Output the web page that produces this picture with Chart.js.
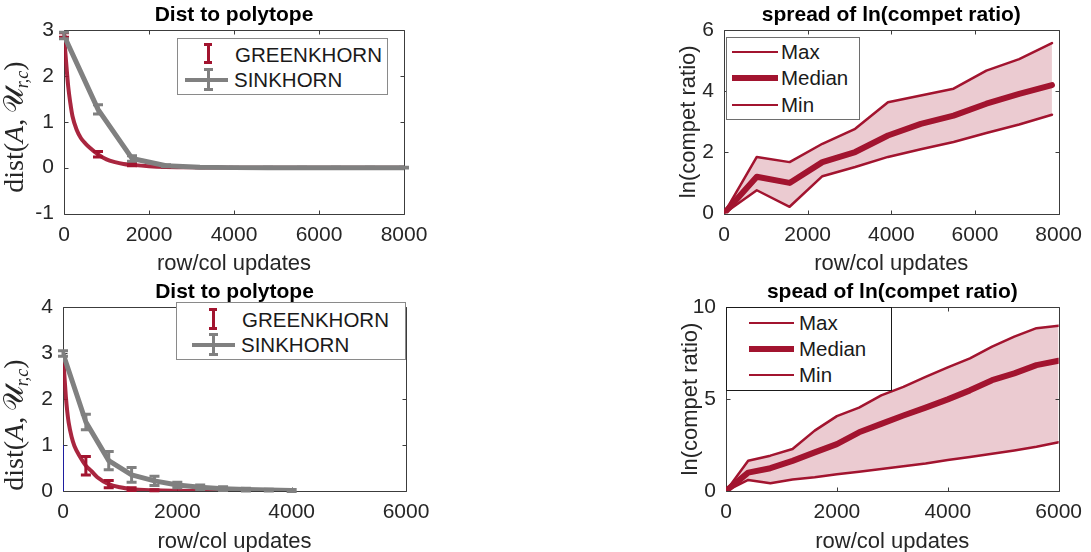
<!DOCTYPE html>
<html>
<head>
<meta charset="utf-8">
<script src="https://cdn.jsdelivr.net/npm/chart.js@4.4.0/dist/chart.umd.min.js"></script>
<style>
html,body{margin:0;padding:0;background:#fff;width:1091px;height:552px;overflow:hidden;font-family:"Liberation Sans",Arial,sans-serif;}
canvas{position:absolute;}
.leg{position:absolute;background:#fff;box-sizing:border-box;}
.el{position:absolute;}
.lt{position:absolute;font-size:20.5px;line-height:24px;color:#1a1a1a;white-space:nowrap;font-family:"Liberation Sans",Arial,sans-serif;}
.ylab{position:absolute;transform:translate(-50%,-50%) rotate(-90deg);white-space:nowrap;font-family:"Liberation Serif","DejaVu Serif",serif;font-size:28px;color:#262626;}
.ylab sub{font-size:18px;vertical-align:-5px;}
</style>
</head>
<body>
<canvas id="c1" width="545" height="277" style="left:0;top:0"></canvas>
<canvas id="c2" width="545" height="275" style="left:0;top:277px"></canvas>
<canvas id="c3" width="546" height="277" style="left:545px;top:0"></canvas>
<canvas id="c4" width="546" height="275" style="left:545px;top:277px"></canvas>
<div class="ylab" style="left:15px;top:127px">dist(<i>A</i>,&#8201;<span>&#x1D4B0;</span><sub><i>r,c</i></sub>)</div>
<div class="ylab" style="left:15px;top:425px">dist(<i>A</i>,&#8201;<span>&#x1D4B0;</span><sub><i>r,c</i></sub>)</div>
<div id="legends"></div>
<script>
// ---------- DATA ----------
// Top-left: Dist to polytope
const tlGreenX = [0, 50, 100, 150, 200, 300, 400, 500, 600, 800, 1000, 1200, 1400, 1600, 2000, 2400, 3200, 4000, 5000, 6000, 7000, 8000];
const tlGreenY = [2.89, 2.3, 1.76, 1.4, 1.12, 0.82, 0.64, 0.53, 0.44, 0.29, 0.18, 0.12, 0.08, 0.06, 0.03, 0.015, 0.005, 0, 0, 0, 0, 0];
const tlGreenErrX = [0, 800, 1600, 2400];
const tlGreenErrY = [2.89, 0.29, 0.07, 0.02];
const tlGreenErrE = [0.05, 0.06, 0.03, 0.01];
const tlSinkX = [0, 800, 1600, 2400, 3200, 4000, 4800, 5600, 6400, 7200, 8000];
const tlSinkY = [2.88, 1.27, 0.2, 0.04, 0.01, 0, 0, 0, 0, 0, 0];
const tlSinkE = [0.07, 0.1, 0.06, 0.02, 0.01, 0.01, 0.01, 0.01, 0.01, 0.01, 0.01];

// Bottom-left: Dist to polytope
const blGreenX = [0, 25, 50, 75, 100, 150, 200, 300, 400, 500, 600, 800, 1000, 1200, 1600, 2000, 2400, 2800, 3200, 3600, 4000];
const blGreenY = [3.0, 2.5, 2.05, 1.72, 1.48, 1.18, 0.98, 0.74, 0.55, 0.43, 0.3, 0.15, 0.08, 0.04, 0.015, 0.005, 0, 0, 0, 0, 0];
const blGreenErrX = [400, 800, 1200, 1600];
const blGreenErrY = [0.55, 0.15, 0.04, 0.015];
const blGreenErrE = [0.2, 0.08, 0.03, 0.01];
const blSinkX = [0, 400, 800, 1200, 1600, 2000, 2400, 2800, 3200, 3600, 4000];
const blSinkY = [2.99, 1.5, 0.66, 0.35, 0.22, 0.13, 0.08, 0.05, 0.03, 0.02, 0.01];
const blSinkE = [0.06, 0.17, 0.2, 0.16, 0.1, 0.06, 0.05, 0.04, 0.03, 0.02, 0.02];
const blBlueX = [0, 0];
const blBlueY = [0, 1];

// Top-right: spread of ln(compet ratio)
const trX = [0, 784, 1568, 2352, 3136, 3920, 4704, 5488, 6272, 7056, 7840];
const trMax = [0, 1.85, 1.68, 2.28, 2.77, 3.64, 3.86, 4.08, 4.67, 5.05, 5.57];
const trMed = [0, 1.2, 1.0, 1.68, 2.01, 2.55, 2.93, 3.2, 3.59, 3.91, 4.2];
const trMin = [0, 0.76, 0.22, 1.22, 1.52, 1.85, 2.1, 2.34, 2.63, 2.91, 3.23];

// Bottom-right: spead of ln(compet ratio)
const brX = [0, 400, 800, 1200, 1600, 2000, 2400, 2800, 3200, 3600, 4000, 4400, 4800, 5200, 5600, 6000];
const brMax = [0, 1.64, 1.92, 2.28, 3.28, 4.07, 4.53, 5.2, 5.66, 6.2, 6.72, 7.21, 7.85, 8.39, 8.85, 8.98];
const brMed = [0, 1.0, 1.24, 1.64, 2.1, 2.55, 3.19, 3.65, 4.1, 4.53, 4.98, 5.47, 6.02, 6.39, 6.84, 7.08];
const brMin = [0, 0.6, 0.42, 0.62, 0.75, 0.91, 1.05, 1.2, 1.35, 1.5, 1.68, 1.85, 2.02, 2.2, 2.4, 2.65];

const xTicksTop = [0, 2000, 4000, 6000, 8000];
const xTicksBottom = [0, 2000, 4000, 6000];

// ---------- STYLE ----------
const RED = '#A2142F';
const GRAY = '#808080';
const AX = '#262626';
const pts = (xs, ys) => xs.map((x, i) => ({x, y: ys[i]}));

const framePlugin = {
  id: 'frame',
  beforeDatasetsDraw(chart) {
    const {ctx, chartArea: a, scales: {x, y}} = chart;
    ctx.save();
    ctx.strokeStyle = '#3c3c3c';
    ctx.lineWidth = 1;
    const L = Math.round(a.left) + 0.5, R = Math.round(a.right) + 0.5, T = Math.round(a.top) + 0.5, B = Math.round(a.bottom) + 0.5;
    ctx.beginPath();
    ctx.rect(L, T, R - L, B - T);
    const tl = 4;
    x.ticks.forEach(t => {
      const px = Math.round(x.getPixelForValue(t.value)) + 0.5;
      ctx.moveTo(px, B); ctx.lineTo(px, B - tl);
      ctx.moveTo(px, T); ctx.lineTo(px, T + tl);
    });
    y.ticks.forEach(t => {
      const py = Math.round(y.getPixelForValue(t.value)) + 0.5;
      ctx.moveTo(L, py); ctx.lineTo(L + tl, py);
      ctx.moveTo(R, py); ctx.lineTo(R - tl, py);
    });
    ctx.stroke();
    ctx.restore();
  }
};

const errorBarPlugin = {
  id: 'errorBars',
  afterDatasetsDraw(chart) {
    const {ctx, scales: {x, y}} = chart;
    const dss = chart.data.datasets;
    for (let di = dss.length - 1; di >= 0; di--) {
      const ds = dss[di];
      if (!ds.errorBars) continue;
      ctx.save();
      ctx.strokeStyle = ds.errColor;
      ctx.lineWidth = 3;
      ctx.lineCap = 'butt';
      const cap = 5;
      ds.data.forEach((p, i) => {
        const e = ds.errorBars[i];
        const px = x.getPixelForValue(p.x);
        const yt = y.getPixelForValue(p.y + e), yb = y.getPixelForValue(p.y - e);
        ctx.beginPath();
        ctx.moveTo(px, yt - 1.5); ctx.lineTo(px, yb + 1.5);
        ctx.moveTo(px - cap, yt); ctx.lineTo(px + cap, yt);
        ctx.moveTo(px - cap, yb); ctx.lineTo(px + cap, yb);
        ctx.stroke();
      });
      ctx.restore();
    }
  }
};

function makeChart(id, cfg) {
  return new Chart(document.getElementById(id), {
    type: 'line',
    data: {datasets: cfg.datasets},
    plugins: [framePlugin, errorBarPlugin],
    options: {
      responsive: false,
      animation: false,
      devicePixelRatio: 1,
      events: [],
      layout: {padding: {left: cfg.padLeft, right: cfg.padRight, top: 0, bottom: 0}},
      elements: {point: {radius: 0, hoverRadius: 0}, line: {borderCapStyle: 'round', borderJoinStyle: 'round'}},
      plugins: {
        legend: {display: false},
        tooltip: {enabled: false},
        filler: {drawTime: 'beforeDatasetsDraw'},
        title: {
          display: true, text: cfg.title, fullSize: false, color: '#000',
          font: {family: '"Liberation Sans", Arial, sans-serif', size: 21, weight: 'bold', lineHeight: 1.2},
          padding: {top: 2.4, bottom: 2.4}
        }
      },
      scales: {
        x: {
          type: 'linear', min: 0, max: cfg.xMax,
          afterBuildTicks: s => { s.ticks = cfg.xTicks.map(v => ({value: v})); },
          afterFit: s => { s.height = cfg.xAxisH; },
          grid: {display: false, drawTicks: false},
          border: {display: false},
          ticks: {padding: 9, color: AX, font: {family: '"Liberation Sans", Arial, sans-serif', size: 21},
                  callback: v => String(v)},
          title: {display: true, text: 'row/col updates', color: AX, padding: {top: 0, bottom: cfg.xTitlePad},
                  font: {family: '"Liberation Sans", Arial, sans-serif', size: 22, lineHeight: 1.2}}
        },
        y: {
          type: 'linear', min: cfg.yMin, max: cfg.yMax,
          ticks: {stepSize: cfg.yStep, padding: 10, color: AX, font: {family: '"Liberation Sans", Arial, sans-serif', size: 21},
                  callback: v => String(v)},
          afterFit: s => { s.width = cfg.yAxisW; },
          grid: {display: false, drawTicks: false},
          border: {display: false},
          title: {display: !!cfg.yTitle, text: cfg.yTitle || '', color: AX, padding: {top: 0, bottom: 0},
                  font: {family: '"Liberation Sans", Arial, sans-serif', size: 22, lineHeight: 1.2}}
        }
      }
    }
  });
}

// Top-left
makeChart('c1', {
  title: 'Dist to polytope', xMax: 8000, xTicks: xTicksTop, yMin: -1, yMax: 3, yStep: 1,
  padLeft: 0, yAxisW: 64, padRight: 141, xAxisH: 63.5, xTitlePad: 0,
  datasets: [
    {data: pts(tlSinkX, tlSinkY), borderColor: GRAY, borderWidth: 5, tension: 0, errorBars: tlSinkE, errColor: GRAY},
    {data: pts(tlGreenErrX, tlGreenErrY), showLine: false, borderColor: RED, errorBars: tlGreenErrE, errColor: RED},
    {data: pts(tlGreenX, tlGreenY), borderColor: 'rgba(162,20,47,0.92)', borderWidth: 4, cubicInterpolationMode: 'monotone'}
  ]
});

// Bottom-left
makeChart('c2', {
  title: 'Dist to polytope', xMax: 6000, xTicks: xTicksBottom, yMin: 0, yMax: 4, yStep: 1,
  padLeft: 0, yAxisW: 63, padRight: 139, xAxisH: 61, xTitlePad: -3,
  datasets: [
    {data: pts(blBlueX, blBlueY), borderColor: '#0000ff', borderWidth: 1, tension: 0},
    {data: pts(blSinkX, blSinkY), borderColor: GRAY, borderWidth: 5, tension: 0, errorBars: blSinkE, errColor: GRAY},
    {data: pts(blGreenErrX, blGreenErrY), showLine: false, borderColor: RED, errorBars: blGreenErrE, errColor: RED},
    {data: pts(blGreenX, blGreenY), borderColor: 'rgba(162,20,47,0.92)', borderWidth: 4, cubicInterpolationMode: 'monotone'}
  ]
});

// Top-right
makeChart('c3', {
  title: 'spread of ln(compet ratio)', xMax: 8000, xTicks: xTicksTop, yMin: 0, yMax: 6, yStep: 2,
  yTitle: 'ln(compet ratio)', padLeft: 130.8, yAxisW: 48.2, padRight: 27, xAxisH: 63.5, xTitlePad: 0,
  datasets: [
    {data: pts(trX, trMax), borderColor: RED, borderWidth: 2.5, tension: 0, fill: '+2', backgroundColor: 'rgba(162,20,47,0.22)'},
    {data: pts(trX, trMed), borderColor: RED, borderWidth: 6, tension: 0},
    {data: pts(trX, trMin), borderColor: RED, borderWidth: 2.5, tension: 0}
  ]
});

// Bottom-right
makeChart('c4', {
  title: 'spead of ln(compet ratio)', xMax: 6000, xTicks: xTicksBottom, yMin: 0, yMax: 10, yStep: 5,
  yTitle: 'ln(compet ratio)', padLeft: 132.8, yAxisW: 48.2, padRight: 26, xAxisH: 61, xTitlePad: -3,
  datasets: [
    {data: pts(brX, brMax), borderColor: RED, borderWidth: 2.5, tension: 0, fill: '+2', backgroundColor: 'rgba(162,20,47,0.22)'},
    {data: pts(brX, brMed), borderColor: RED, borderWidth: 6, tension: 0},
    {data: pts(brX, brMin), borderColor: RED, borderWidth: 2.5, tension: 0}
  ]
});

// ---------- LEGENDS (HTML) ----------
const legRoot = document.getElementById('legends');
function box(l, t, w, h, border) {
  const d = document.createElement('div');
  d.className = 'leg';
  d.style.cssText = `left:${l}px;top:${t}px;width:${w}px;height:${h}px;border:1px solid ${border};`;
  legRoot.appendChild(d);
}
function rect(l, t, w, h, c) {
  const d = document.createElement('div');
  d.className = 'el';
  d.style.cssText = `left:${l}px;top:${t}px;width:${w}px;height:${h}px;background:${c};`;
  legRoot.appendChild(d);
}
function hline(x1, x2, y, w, c) { rect(x1, y - w / 2, x2 - x1, w, c); }
function ebar(x, y1, y2, cap, c) {
  rect(x - 1.5, y1, 3, y2 - y1, c);
  rect(x - cap / 2, y1, cap, 3, c);
  rect(x - cap / 2, y2 - 3, cap, 3, c);
}
function text(s, l, cy) {
  const d = document.createElement('div');
  d.className = 'lt';
  d.style.left = l + 'px';
  d.style.top = (cy - 12) + 'px';
  d.textContent = s;
  legRoot.appendChild(d);
}
// top-left
box(177, 38, 211, 57, '#8a8a8a');
ebar(208, 43, 64, 8, RED);
text('GREENKHORN', 235, 55);
hline(185, 228, 80, 4, GRAY);
ebar(208, 68, 91, 9, GRAY);
text('SINKHORN', 234, 80);
// bottom-left
box(176, 302, 230, 58, '#8a8a8a');
ebar(213, 308, 330, 8, RED);
text('GREENKHORN', 242, 320);
hline(192, 235, 345, 4, GRAY);
ebar(213, 333, 356, 9, GRAY);
text('SINKHORN', 241, 345);
// top-right
box(726, 37, 134, 83, '#6e6e6e');
hline(732, 778, 52, 2.5, RED); text('Max', 781, 52);
hline(732, 778, 78, 6, RED); text('Median', 781, 78);
hline(732, 778, 105, 2.5, RED); text('Min', 781, 105);
// bottom-right
box(726, 307, 166, 84, '#1a1a1a');
hline(749, 794, 323, 2.5, RED); text('Max', 799, 323);
hline(749, 794, 349, 6, RED); text('Median', 799, 349);
hline(749, 794, 375, 2.5, RED); text('Min', 799, 375);
</script>
</body>
</html>
